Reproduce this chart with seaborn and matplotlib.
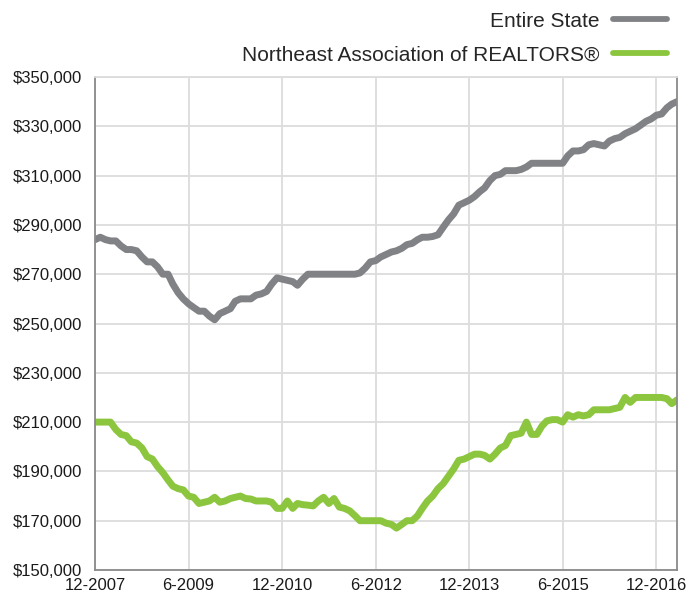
import pandas as pd
import matplotlib
matplotlib.use("Agg")
import matplotlib.pyplot as plt
import matplotlib.ticker as mticker
import seaborn as sns

# Monthly median price, 12-2007 .. 4-2017 (thousands of dollars)
months = pd.date_range("2007-12-01", "2017-04-01", freq="MS")

entire_state = [
    284, 285, 284, 283.5, 283.5, 281.5, 280, 280, 279.5, 277,
    275, 275, 273, 270, 270, 266, 262.5, 260, 258, 256.5,
    255, 255, 253, 251.5, 254, 255, 256, 259, 260, 260,
    260, 261.5, 262, 263, 266, 268.5, 268, 267.5, 267, 265.5,
    268, 270, 270, 270, 270, 270, 270, 270, 270, 270,
    270, 270.5, 272.5, 275, 275.5, 277, 278, 279, 279.5, 280.5,
    282, 282.5, 284, 285, 285, 285.3, 286, 289, 292, 294.5,
    298, 299, 300, 301.5, 303.5, 305, 308, 310, 310.5, 312,
    312, 312, 312.5, 313.5, 315, 315, 315, 315, 315, 315,
    315, 318, 320, 320, 320.5, 322.5, 323, 322.5, 322, 324,
    325, 325.5, 327, 328, 329, 330.5, 332, 333, 334.5, 335,
    337.5, 339, 340,
]

northeast = [
    210, 210, 210, 210, 207, 205, 204.5, 202, 201.5, 199.5,
    196, 195, 192, 189.5, 186.5, 184, 183, 182.5, 180, 179.5,
    177, 177.5, 178, 179.5, 177.5, 178, 179, 179.5, 180, 179,
    178.8, 178, 178, 178, 177.5, 175, 175, 178, 175, 177,
    176.5, 176.3, 176, 178, 179.5, 177, 179, 175.5, 175, 174,
    172, 170, 170, 170, 170, 170, 169, 168.5, 167, 168.5,
    170, 170, 172, 175, 178, 180, 183, 185, 188, 191,
    194.5, 195, 196, 197, 197, 196.5, 195, 197, 199.5, 200.5,
    204.5, 205, 205.5, 210, 205, 205, 208.5, 210.5, 211, 211,
    210, 213, 212, 213, 212.5, 213, 215, 215, 215, 215,
    215.5, 216, 220, 218, 220, 220, 220, 220, 220, 220,
    219.5, 217.5, 219,
]

series_names = ["Entire State", "Northeast Association of REALTORS®"]
colors = ["#818285", "#8cc63f"]

tick_dates = pd.to_datetime(["2007-12-01", "2009-06-01", "2010-12-01", "2012-06-01",
                             "2013-12-01", "2015-06-01", "2016-12-01"])
tick_labels = ["12-2007", "6-2009", "12-2010", "6-2012", "12-2013", "6-2015", "12-2016"]

df = pd.DataFrame({
    "month": list(months) * 2,
    "price": [v * 1000 for v in entire_state + northeast],
    "series": [series_names[0]] * len(months) + [series_names[1]] * len(months),
})

sns.set_style("white")
plt.rcParams["font.family"] = ["Liberation Sans", "DejaVu Sans"]

fig = plt.figure(figsize=(7, 5.98), dpi=100)
ax = fig.add_axes([95 / 700, 1 - 570 / 598, (677 - 95) / 700, (570 - 77) / 598])

sns.lineplot(data=df, x="month", y="price", hue="series", palette=colors,
             linewidth=5, ax=ax, legend=False, solid_capstyle="round")

ax.set_xlim(months[0], months[-1])
ax.set_ylim(150000, 350000)
ax.set_yticks(range(150000, 350001, 20000))
ax.yaxis.set_major_formatter(mticker.FuncFormatter(lambda v, p: f"${v:,.0f}"))
ax.set_xticks(tick_dates)
ax.set_xticklabels(tick_labels)
ax.set_xlabel("")
ax.set_ylabel("")

ax.grid(True, color="#dcdcdc", linewidth=1.3)
ax.set_axisbelow(True)
ax.tick_params(axis="both", labelsize=12, colors="#1a1a1a",
               width=1, direction="out")
ax.tick_params(axis="y", pad=5, length=4.5)
ax.tick_params(axis="x", pad=2, length=4)
ax.tick_params(axis="both", color="#888888")
for side in ["left", "bottom", "right"]:
    ax.spines[side].set_color("#8a8a8a")
    ax.spines[side].set_linewidth(1.3)
ax.spines["top"].set_color("#dcdcdc")
ax.spines["top"].set_linewidth(1.3)

handles = [plt.Line2D([], [], color=c, linewidth=4.2, solid_capstyle="round") for c in colors]
fig.legend(handles, series_names, loc="upper right", bbox_to_anchor=(0.98, 1.012),
           frameon=False, markerfirst=False, fontsize=15, handlelength=2.6,
           handletextpad=0.65, labelspacing=0.72)

fig.savefig("out.png", dpi=100)
